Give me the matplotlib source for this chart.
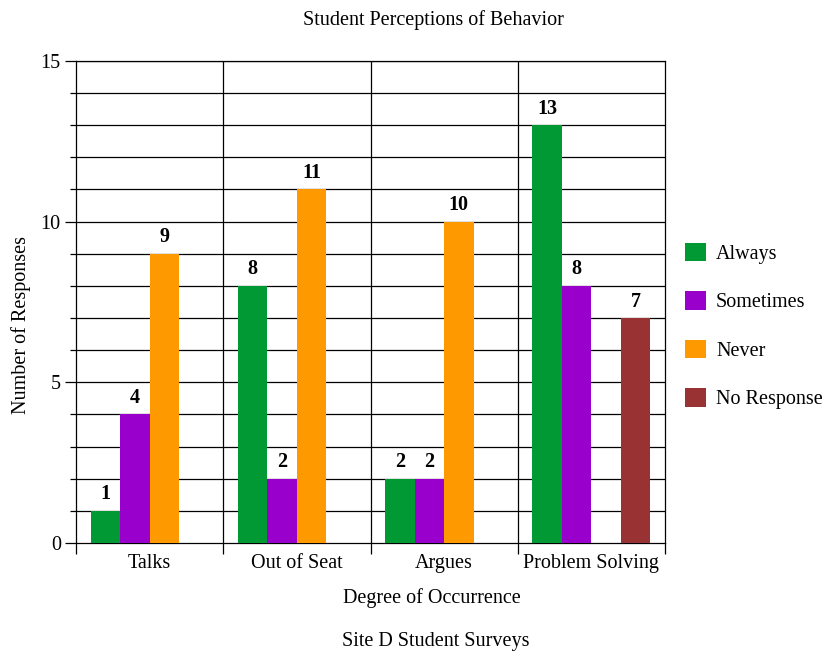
import numpy as np
import matplotlib
matplotlib.use("Agg")
import matplotlib.pyplot as plt
from matplotlib.ticker import MultipleLocator, FixedLocator

# data
categories = ["Talks", "Out of Seat", "Argues", "Problem Solving"]
series = ["Always", "Sometimes", "Never", "No Response"]
always = [1, 8, 2, 13]
sometimes = [4, 2, 2, 8]
never = [9, 11, 10, 0]
no_response = [0, 0, 0, 7]
colors = ["#009933", "#9900cc", "#ff9900", "#993333"]

plt.rcParams['font.family'] = ['Liberation Serif', 'DejaVu Serif']
FS = 14.5

fig = plt.figure(figsize=(8.22, 6.51), dpi=100)
ax = fig.add_axes([0.0925, 0.166, 0.7165, 0.7405])

x = np.arange(len(categories))
w = 0.2
values = [always, sometimes, never, no_response]
for j, (name, vals) in enumerate(zip(series, values)):
    pos = x + (j - 1.5) * w
    ax.bar(pos, vals, w, color=colors[j], label=name, zorder=3)
    for px, v in zip(pos, vals):
        if v > 0:
            ax.text(px, v + 0.2, str(v), ha="center", va="bottom",
                    fontsize=FS, fontweight="bold", zorder=4)

ax.set_xlim(-0.5, len(categories) - 0.5)
ax.set_ylim(0, 15)

# grid lines: every integer and between categories
for yv in range(1, 16):
    ax.axhline(yv, color="black", lw=0.9, zorder=1)
for xv in np.arange(0.5, len(categories) - 0.5, 1):
    ax.axvline(xv, color="black", lw=0.9, zorder=1)
for s in ax.spines.values():
    s.set_linewidth(0.9)

ax.yaxis.set_major_locator(MultipleLocator(5))
ax.yaxis.set_minor_locator(MultipleLocator(1))
ax.tick_params(axis="y", which="major", length=8, width=0.9, labelsize=FS, pad=3)
ax.tick_params(axis="y", which="minor", length=4, width=0.9)

ax.xaxis.set_major_locator(FixedLocator(np.arange(-0.5, len(categories), 1)))
ax.xaxis.set_major_formatter(plt.NullFormatter())
ax.xaxis.set_minor_locator(FixedLocator(x))
ax.set_xticklabels(categories, minor=True)
ax.tick_params(axis="x", which="major", length=8, width=0.9)
ax.tick_params(axis="x", which="minor", length=0, labelsize=FS, pad=8)

ax.set_ylabel("Number of Responses", fontsize=FS)
ax.yaxis.set_label_coords(-0.0765, 0.452)
ax.set_xlabel("Degree of Occurrence", fontsize=FS)
ax.xaxis.set_label_coords(0.604, -0.093)
fig.text(0.527, 0.969, "Student Perceptions of Behavior", ha="center", va="center", fontsize=FS)
fig.text(0.53, 0.015, "Site D Student Surveys", ha="center", va="center", fontsize=FS)

ax.legend(loc="center left", bbox_to_anchor=(1.02, 0.45), frameon=False,
          fontsize=FS, handlelength=1.05, handleheight=1.05, labelspacing=1.35,
          handletextpad=0.5, borderaxespad=0)

fig.savefig("out.png", dpi=100)
